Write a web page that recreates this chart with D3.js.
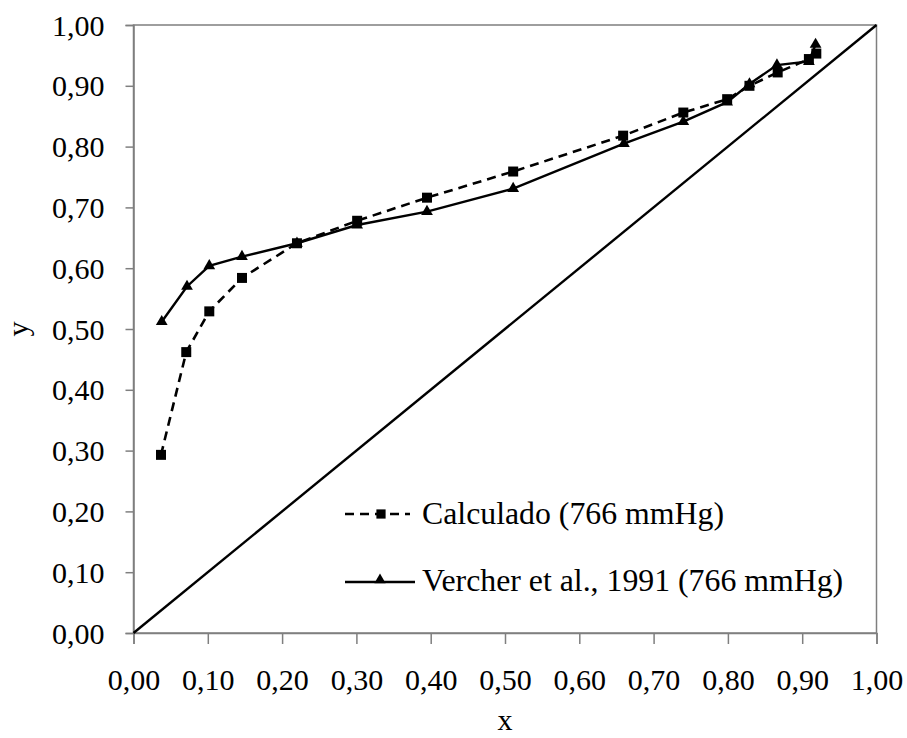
<!DOCTYPE html>
<html>
<head>
<meta charset="utf-8">
<script src="https://cdn.jsdelivr.net/npm/d3@7"></script>
<style>
  body { margin: 0; background: #fff; overflow: hidden; }
  text { font-family: "Liberation Serif", "Times New Roman", serif; fill: #000; }
</style>
</head>
<body>
<script>
// calculated equilibrium data (squares, dashed)
var calcX = [0.037, 0.071, 0.102, 0.146, 0.220, 0.301, 0.395, 0.511, 0.659, 0.740, 0.799, 0.829, 0.867, 0.909, 0.919];
var calcY = [0.293, 0.462, 0.529, 0.584, 0.641, 0.678, 0.716, 0.759, 0.818, 0.856, 0.878, 0.900, 0.922, 0.944, 0.953];
// Vercher et al. 1991 (triangles, solid)
var expX = [0.038, 0.072, 0.102, 0.146, 0.220, 0.301, 0.395, 0.511, 0.660, 0.740, 0.799, 0.829, 0.866, 0.909, 0.918];
var expY = [0.512, 0.570, 0.604, 0.619, 0.641, 0.671, 0.693, 0.731, 0.805, 0.841, 0.873, 0.903, 0.934, 0.940, 0.968];
var tickVals = [0, 0.1, 0.2, 0.3, 0.4, 0.5, 0.6, 0.7, 0.8, 0.9, 1.0];
var labelCalc = "Calculado (766 mmHg)";
var labelExp = "Vercher et al., 1991 (766 mmHg)";

var width = 907, height = 738;
var pLeft = 133.5, pRight = 876.5, pTop = 25, pBottom = 633;

var svg = d3.select("body").append("svg")
  .attr("width", width)
  .attr("height", height)
  .style("display", "block");

var x = d3.scaleLinear().domain([0, 1]).range([pLeft, pRight]);
var y = d3.scaleLinear().domain([0, 1]).range([pBottom, pTop]);
var fmt = function(d) { return d3.format(".2f")(d).replace(".", ","); };

// frame
svg.append("rect")
  .attr("x", pLeft).attr("y", pTop)
  .attr("width", pRight - pLeft).attr("height", pBottom - pTop)
  .attr("fill", "none").attr("stroke", "#7f7f7f").attr("stroke-width", 1.5);

// axes
var xAxis = svg.append("g")
  .attr("transform", "translate(0," + pBottom + ")")
  .call(d3.axisBottom(x).tickValues(tickVals).tickSize(11).tickFormat(fmt));
xAxis.select(".domain").attr("stroke", "#7f7f7f").attr("stroke-width", 1.5);
xAxis.selectAll(".tick line").attr("stroke", "#7f7f7f").attr("stroke-width", 1.5);
xAxis.selectAll(".tick text")
  .attr("y", 0).attr("dy", 57)
  .style("font-size", "30px")
  .style("font-family", "Liberation Serif, serif")
  .attr("fill", "#000");

var yAxis = svg.append("g")
  .attr("transform", "translate(" + pLeft + ",0)")
  .call(d3.axisLeft(y).tickValues(tickVals).tickSize(8).tickFormat(fmt));
yAxis.select(".domain").attr("stroke", "#7f7f7f").attr("stroke-width", 1.5);
yAxis.selectAll(".tick line").attr("stroke", "#7f7f7f").attr("stroke-width", 1.5);
yAxis.selectAll(".tick text")
  .attr("x", -29).attr("dy", 10)
  .style("font-size", "30px")
  .style("font-family", "Liberation Serif, serif")
  .attr("fill", "#000");

// diagonal y = x
svg.append("line")
  .attr("x1", x(0)).attr("y1", y(0))
  .attr("x2", x(1)).attr("y2", y(1))
  .attr("stroke", "#000").attr("stroke-width", 2.4);

var calcData = calcX.map(function(d, i) { return [d, calcY[i]]; });
var expData = expX.map(function(d, i) { return [d, expY[i]]; });

var line = d3.line()
  .x(function(d) { return x(d[0]); })
  .y(function(d) { return y(d[1]); });

svg.append("path")
  .datum(calcData)
  .attr("d", line)
  .attr("fill", "none")
  .attr("stroke", "#000")
  .attr("stroke-width", 2.6)
  .attr("stroke-dasharray", "9,6");

svg.append("path")
  .datum(expData)
  .attr("d", line)
  .attr("fill", "none")
  .attr("stroke", "#000")
  .attr("stroke-width", 2.4);

var square = d3.symbol().type(d3.symbolSquare).size(100);
var triangle = d3.symbol().type(d3.symbolTriangle).size(60);

svg.selectAll("path.sq")
  .data(calcData)
  .enter()
  .append("path")
  .attr("class", "sq")
  .attr("d", square)
  .attr("transform", function(d) { return "translate(" + x(d[0]) + "," + y(d[1]) + ")"; })
  .attr("fill", "#000");

svg.selectAll("path.tri")
  .data(expData)
  .enter()
  .append("path")
  .attr("class", "tri")
  .attr("d", triangle)
  .attr("transform", function(d) { return "translate(" + x(d[0]) + "," + y(d[1]) + ")"; })
  .attr("fill", "#000");

// legend
svg.append("line")
  .attr("x1", 345).attr("x2", 410).attr("y1", 514).attr("y2", 514)
  .attr("stroke", "#000").attr("stroke-width", 2.6).attr("stroke-dasharray", "9,6");
svg.append("path").attr("d", d3.symbol().type(d3.symbolSquare).size(85))
  .attr("transform", "translate(381,514)").attr("fill", "#000");
svg.append("text").text(labelCalc)
  .attr("x", 422).attr("y", 524)
  .style("font-size", "31.8px");

svg.append("line")
  .attr("x1", 345).attr("x2", 415).attr("y1", 582).attr("y2", 582)
  .attr("stroke", "#000").attr("stroke-width", 2.4);
svg.append("path").attr("d", d3.symbol().type(d3.symbolTriangle).size(55))
  .attr("transform", "translate(380,580)").attr("fill", "#000");
svg.append("text").text(labelExp)
  .attr("x", 422).attr("y", 591)
  .style("font-size", "31.8px");

// axis titles
svg.append("text").text("x")
  .attr("x", (pLeft + pRight) / 2).attr("y", 730)
  .attr("text-anchor", "middle")
  .style("font-size", "30px");

svg.append("text").text("y")
  .attr("transform", "translate(28," + ((pTop + pBottom) / 2) + ") rotate(-90)")
  .attr("text-anchor", "middle")
  .style("font-size", "30px");
</script>
</body>
</html>
